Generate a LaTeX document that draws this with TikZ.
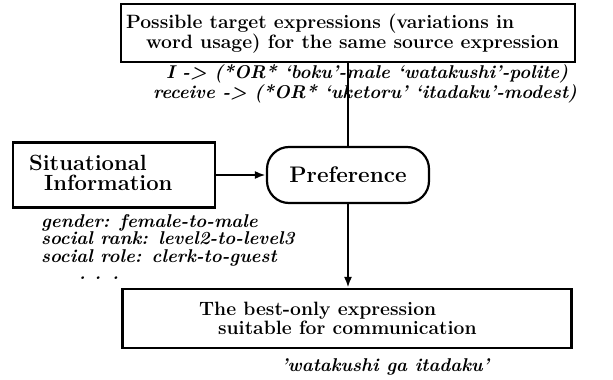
\documentclass[tikz,border=0pt]{standalone}
\usetikzlibrary{arrows.meta}
\tikzset{
	box/.style={draw, line width=2.2pt, inner sep=0pt},
	bigtxt/.style={font=\fontsize{19.3}{19}\selectfont\bfseries, align=left, inner sep=0pt},
	midtxt/.style={font=\fontsize{22}{20}\selectfont\bfseries, align=left, inner sep=0pt},
	smalltxt/.style={font=\fontsize{18.5}{17.5}\selectfont\bfseries\itshape, align=left, inner sep=0pt},
}
\begin{document}
\begin{tikzpicture}[x=1pt, y=-1pt, line width=2.2pt]
		\useasboundingbox (0,0) rectangle (613,380);
		%target expressions
		\node[box, minimum width=454pt, minimum height=58pt] (target) at (348,33){};
		\node[bigtxt, anchor=west] (targettxt) at (125,34){Possible target expressions (variations in\\\hspace{20pt}word usage) for the same source expression};
		\node[smalltxt, anchor=west] (maps) at (152,84){\hspace{13pt}I -> (*OR* `boku'-male `watakushi'-polite)\\receive -> (*OR* `uketoru' `itadaku'-modest)};
		
		%situational information
		\node[box, minimum width=202pt, minimum height=65pt] (situ) at (114,175){};
		\node[midtxt, anchor=west] (situtxt) at (28,173){Situational\\\hspace{15pt}Information};
		\node[smalltxt, anchor=north west] (attrs) at (40,213){gender: female-to-male\\social rank: level2-to-level3\\social role: clerk-to-guest\\\hspace{38pt}.\hspace{9pt}.\hspace{11pt}.};
		
		%preference
		\node[box, rounded corners=22pt, minimum width=162pt, minimum height=56pt, font=\fontsize{22.5}{24}\selectfont\bfseries] (pref) at (348,175){Preference};
		
		%best expression
		\node[box, minimum width=449pt, minimum height=59pt] (best) at (347,318.5){};
		\node[bigtxt, anchor=west] (besttxt) at (198,318){The best-only expression\\\hspace{19pt}suitable for communication};
		\node[smalltxt, anchor=west] (result) at (280,367){'watakushi ga itadaku'};
		
		%connectors
		\draw (target.south) -- (target.south |- pref.north);
		\draw[-{Latex[length=11pt,width=8pt]}] (situ) -- (pref);
		\draw[-{Latex[length=11pt,width=8pt]}] (pref.south) -- (pref.south |- best.north);
\end{tikzpicture}
\end{document}
